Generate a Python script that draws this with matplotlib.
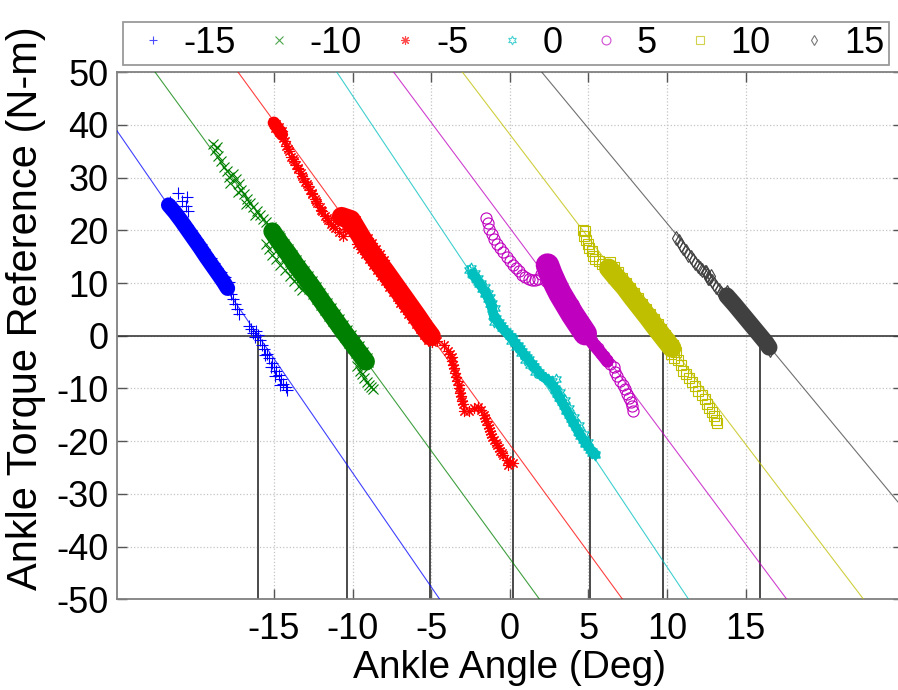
import matplotlib
matplotlib.use("Agg")
import matplotlib.pyplot as plt
import numpy as np

plt.rcParams['font.family'] = ['Liberation Sans', 'DejaVu Sans']

# ---------------- data ----------------
labels = ['-15', '-10', '-5', '0', '5', '10', '15']
# equilibrium angle of each reference line (deg) and its stiffness (N-m/deg)
theta0 = [-16.0, -10.33, -5.05, 0.19, 5.12, 9.75, 15.93]
stiffness = [4.33, 4.09, 4.09, 4.47, 4.0, 3.92, 3.6]

xticks = [-15, -10, -5, 0, 5, 10, 15]
yticks = [-50, -40, -30, -20, -10, 0, 10, 20, 30, 40, 50]

# individual samples (angle deg, torque N-m)
blue_pts = [
    (-21.1, 27.0), (-20.55, 26.3), (-20.85, 25.5), (-20.6, 24.6), (-20.45, 23.6),
    (-21.8, 25.0), (-21.6, 25.4), (-21.55, 24.2), (-21.35, 24.6), (-21.4, 23.3), (-21.15, 23.6),
    (-21.2, 22.4), (-20.95, 22.7), (-21.0, 21.5), (-20.75, 21.8), (-20.8, 20.6), (-20.5, 21.0),
    (-20.55, 19.7), (-20.3, 20.1), (-20.35, 18.8), (-20.1, 19.2), (-20.15, 17.9), (-19.9, 18.3),
    (-19.9, 17.0), (-19.65, 17.4), (-19.7, 16.1), (-19.45, 16.5), (-19.5, 15.2), (-19.25, 15.6),
    (-19.3, 14.3), (-19.0, 14.7), (-19.05, 13.4), (-18.8, 13.8), (-18.85, 12.5), (-18.6, 12.9),
    (-18.6, 11.6), (-18.35, 12.0), (-18.35, 10.7), (-18.1, 11.1), (-18.1, 9.8), (-17.85, 10.2),
    (-17.9, 8.8), (-17.7, 8.0), (-17.6, 7.0), (-17.45, 6.0), (-17.35, 5.0), (-17.2, 4.2),
    (-16.6, 1.8), (-16.45, 1.2), (-16.3, 0.6), (-16.15, 0.9), (-16.0, 0.1), (-16.2, -0.3), (-15.9, -0.8),
    (-15.75, -1.8), (-15.6, -2.6), (-15.45, -3.4), (-15.3, -4.3), (-15.15, -5.1), (-15.0, -5.9),
    (-14.85, -6.7), (-14.7, -7.5), (-14.55, -8.3), (-14.4, -9.1), (-14.25, -9.8), (-14.15, -10.3),
    (-15.55, -3.6), (-15.2, -6.0), (-14.9, -7.7), (-14.6, -9.3),
]
blue_core = [(-21.7, 24.8), (-21.3, 23.4), (-20.9, 21.8), (-20.5, 20.1), (-20.1, 18.4),
             (-19.7, 16.7), (-19.3, 14.9), (-18.9, 13.2), (-18.5, 11.5), (-18.2, 10.2),
             (-17.95, 9.0)]

green_pts = [
    (-18.9, 36.3), (-18.75, 35.2), (-18.6, 35.8), (-18.55, 34.1), (-18.35, 33.2), (-18.2, 32.0),
    (-18.0, 31.2), (-17.85, 30.2), (-17.6, 30.6), (-17.4, 29.7), (-17.25, 28.7), (-17.1, 27.6),
    (-16.9, 26.8), (-16.7, 26.0), (-16.5, 25.2), (-16.3, 24.4), (-16.1, 23.7), (-15.9, 22.9),
    (-15.7, 22.2), (-15.5, 21.5),
    (-17.8, 29.0), (-17.3, 27.2), (-16.8, 25.0), (-16.2, 23.0),
    (-15.5, 17.5), (-15.3, 16.4), (-15.1, 15.4), (-14.85, 14.5), (-14.6, 13.4), (-14.3, 12.4),
    (-14.0, 11.4), (-13.7, 10.4), (-13.4, 9.4), (-13.2, 8.7),
    (-15.2, 20.6), (-15.0, 19.8), (-14.9, 18.6), (-14.7, 19.0),
    (-14.6, 18.5), (-14.35, 17.4), (-14.1, 16.4), (-13.85, 15.4), (-13.6, 14.4), (-13.35, 13.4),
    (-13.1, 12.3), (-12.85, 11.3), (-12.6, 10.3), (-12.35, 9.3), (-12.1, 8.2), (-11.85, 7.2),
    (-11.6, 6.2), (-11.35, 5.2), (-11.1, 4.1), (-10.85, 3.1), (-10.6, 2.1), (-10.35, 1.1),
    (-10.1, 0.1), (-9.85, -1.0), (-9.6, -2.0), (-9.35, -3.0), (-9.1, -4.2),
    (-14.5, 16.0), (-14.25, 15.0), (-14.0, 14.0), (-13.75, 13.0), (-13.5, 12.0), (-13.25, 10.9),
    (-13.0, 9.9), (-12.75, 8.9), (-12.5, 7.9), (-12.25, 6.9), (-12.0, 5.8), (-11.75, 4.8),
    (-11.5, 3.8), (-11.25, 2.8), (-11.0, 1.8), (-10.75, 0.7), (-10.5, -0.3), (-10.25, -1.3),
    (-10.0, -2.3), (-9.75, -3.3), (-9.5, -4.3), (-9.25, -5.3), (-9.0, -5.0),
    (-9.7, -5.8), (-9.55, -6.6), (-9.4, -7.3), (-9.25, -8.0), (-9.1, -8.7), (-8.95, -9.3),
    (-8.8, -9.8), (-8.7, -10.1),
]
green_core = [(-15.1, 19.8), (-14.6, 17.6), (-14.1, 15.6), (-13.6, 13.4), (-13.1, 11.4),
              (-12.6, 9.4), (-12.1, 7.2), (-11.6, 5.1), (-11.1, 3.0), (-10.6, 0.9),
              (-10.1, -1.1), (-9.6, -3.1), (-9.15, -4.9)]

red_pts = [
    (-15.05, 40.5), (-14.85, 40.2), (-14.9, 39.4), (-14.65, 39.6), (-14.7, 38.6), (-14.5, 38.8),
    (-14.45, 37.6), (-14.3, 37.0),
    (-14.2, 36.0), (-14.05, 35.0), (-13.9, 34.0), (-13.75, 33.2), (-13.6, 32.4), (-13.45, 31.6),
    (-13.3, 30.8), (-13.15, 30.0), (-13.0, 29.2), (-12.85, 28.4), (-12.7, 27.6), (-12.55, 26.8),
    (-12.4, 26.0), (-12.25, 25.2), (-12.1, 24.4), (-11.95, 23.6), (-11.75, 22.8), (-11.55, 22.0),
    (-11.35, 21.2), (-11.1, 20.4), (-10.85, 19.7), (-10.6, 19.0),
    (-14.1, 35.4), (-13.8, 33.6), (-13.5, 31.9), (-13.2, 30.3), (-12.9, 28.7), (-12.6, 27.1),
    (-12.3, 25.5), (-12.0, 23.9), (-11.65, 22.4), (-11.25, 20.9),
    (-10.9, 22.8), (-10.6, 23.2), (-10.3, 23.0), (-10.0, 22.6), (-9.75, 22.0), (-10.7, 21.8),
    (-10.4, 21.6), (-10.1, 21.3), (-9.8, 20.8), (-10.5, 20.3), (-10.2, 19.8),
    (-9.9, 20.8), (-9.65, 19.8), (-9.4, 18.8), (-9.15, 17.8), (-8.9, 16.7), (-8.65, 15.7),
    (-8.4, 14.7), (-8.15, 13.7), (-7.9, 12.7), (-7.65, 11.6), (-7.4, 10.6), (-7.15, 9.6),
    (-6.9, 8.6), (-6.65, 7.5), (-6.4, 6.5), (-6.15, 5.5), (-5.9, 4.5), (-5.65, 3.5),
    (-5.4, 2.4), (-5.15, 1.4),
    (-9.7, 17.5), (-9.45, 16.5), (-9.2, 15.5), (-8.95, 14.5), (-8.7, 13.4), (-8.45, 12.4),
    (-8.2, 11.4), (-7.95, 10.4), (-7.7, 9.3), (-7.45, 8.3), (-7.2, 7.3), (-6.95, 6.3),
    (-6.7, 5.2), (-6.45, 4.2), (-6.2, 3.2), (-5.95, 2.2), (-5.7, 1.2), (-5.45, 0.1),
    (-5.2, -0.8), (-4.95, -1.1),
    (-9.5, 20.0), (-9.25, 19.2), (-9.0, 18.5), (-8.75, 17.6), (-8.5, 16.5), (-8.25, 15.5), (-8.0, 14.4),
    (-4.6, -1.0), (-4.2, -1.8), (-3.9, -2.8), (-3.7, -4.0), (-3.6, -5.5), (-3.5, -7.0),
    (-3.35, -8.5), (-3.2, -10.0), (-3.1, -11.5), (-3.0, -13.0), (-2.9, -14.2), (-2.6, -14.3),
    (-2.3, -13.8), (-2.0, -13.5), (-1.8, -14.0), (-1.65, -15.0), (-1.5, -16.2), (-1.35, -17.5),
    (-1.2, -18.7), (-1.0, -19.8), (-0.8, -20.8), (-0.6, -21.8), (-0.4, -22.7), (-0.2, -23.5),
    (0.0, -24.0), (0.2, -24.2), (-0.1, -24.6),
    (-3.8, -3.4), (-3.65, -4.8), (-3.55, -6.2), (-3.4, -7.8), (-3.25, -9.3), (-3.15, -10.8),
    (-3.05, -12.3), (-1.55, -15.6), (-1.4, -16.9), (-1.25, -18.1), (-1.1, -19.3), (-0.9, -20.3),
    (-0.7, -21.3), (-0.5, -22.3),
]
red_core = [(-15.0, 40.4), (-14.5, 38.2)]
red_core2 = [(-10.7, 22.6), (-10.1, 22.0), (-9.7, 20.0), (-9.3, 18.0), (-8.9, 16.2),
             (-8.4, 14.1), (-7.9, 12.1), (-7.4, 10.0), (-6.9, 7.9), (-6.4, 5.8),
             (-5.9, 3.7), (-5.4, 1.5), (-5.0, -0.1)]

cyan_pts = [
    (-2.6, 12.4), (-2.45, 12.8), (-2.35, 11.6), (-2.2, 11.9), (-2.15, 10.7), (-2.0, 11.0),
    (-1.95, 9.8), (-1.8, 10.1), (-1.75, 8.9), (-1.6, 9.2), (-1.55, 8.0), (-1.4, 8.2),
    (-1.4, 7.0), (-1.25, 7.3), (-1.25, 6.0), (-1.1, 6.3), (-1.1, 5.0), (-0.95, 5.2),
    (-1.05, 3.8), (-1.0, 2.6), (-0.85, 3.4), (-0.7, 2.6), (-0.55, 2.0), (-0.4, 1.4),
    (-0.25, 0.9), (-0.1, 0.5), (0.05, 0.0), (0.2, -0.5), (0.35, -1.1), (0.5, -1.7),
    (0.65, -2.3), (0.8, -2.9), (0.95, -3.4), (1.1, -4.0), (1.25, -4.5), (1.4, -5.1),
    (1.55, -5.7), (1.7, -6.3), (1.85, -6.9), (2.0, -7.4), (2.2, -7.9), (2.45, -8.3),
    (2.7, -8.6), (2.95, -8.3), (2.75, -9.3), (2.85, -10.2), (3.0, -11.0), (3.15, -11.8),
    (3.3, -12.6), (3.45, -13.4), (3.6, -14.2), (3.75, -15.0), (3.9, -15.8), (4.05, -16.6),
    (4.2, -17.4), (4.35, -18.2), (4.5, -19.0), (4.65, -19.8), (4.8, -20.5), (4.95, -21.1),
    (5.1, -21.7), (5.25, -22.2), (5.45, -22.6),
    (0.1, -1.0), (0.4, -2.2), (0.7, -3.3), (1.0, -4.6), (1.3, -5.6), (1.6, -6.8),
    (3.2, -10.6), (3.5, -12.2), (3.8, -13.8), (4.1, -15.4), (4.4, -17.0), (4.7, -18.6), (5.0, -20.2),
]
cyan_core = [(-2.4, 11.8), (-2.0, 10.2), (-1.55, 8.2), (-1.2, 6.0), (-1.0, 3.6), (-0.5, 1.5),
             (0.0, -0.1), (0.5, -1.9), (1.0, -3.9), (1.5, -5.7), (2.0, -7.5), (2.5, -8.6),
             (2.85, -9.9), (3.2, -11.9), (3.6, -14.1), (4.0, -16.3), (4.4, -18.4),
             (4.8, -20.3), (5.2, -21.8), (5.45, -22.5)]

magenta_pts = [
    (-1.5, 22.3), (-1.4, 21.3), (-1.3, 20.3), (-1.15, 19.3), (-1.0, 18.4), (-0.8, 17.5),
    (-0.6, 16.7), (-0.4, 15.8), (-0.2, 15.0), (0.0, 14.2), (0.2, 13.5), (0.4, 12.8),
    (0.6, 12.2), (0.8, 11.6), (1.0, 11.2), (1.2, 10.8), (1.4, 10.6), (1.6, 10.5), (1.8, 10.8),
    (2.3, 14.0), (2.5, 13.8), (2.2, 13.0), (2.6, 12.5), (2.0, 11.8), (2.4, 11.5), (2.8, 11.2),
    (2.3, 10.3), (2.7, 10.0), (3.1, 10.0), (2.6, 9.0), (3.0, 8.8), (3.4, 8.5), (2.9, 7.8),
    (3.3, 7.5), (3.7, 7.2), (3.2, 6.5), (3.6, 6.2), (4.0, 6.0), (3.5, 5.2), (3.9, 5.0),
    (4.2, 4.5), (3.8, 4.0), (4.1, 3.5), (4.4, 3.0), (4.1, 2.5), (4.4, 2.0), (4.6, 1.5),
    (4.5, 0.8), (4.8, 0.3), (5.0, -0.3), (5.2, -1.0), (5.4, -1.7), (5.6, -2.4), (5.8, -3.2),
    (6.0, -3.9), (6.2, -4.6), (6.4, -5.3), (6.6, -6.0), (6.7, -6.8), (6.85, -7.6), (7.0, -8.5),
    (7.2, -9.3), (7.3, -10.1), (7.45, -11.0), (7.6, -11.8), (7.7, -12.6), (7.8, -13.4), (7.85, -14.2),
]
magenta_core = [(2.4, 13.4), (2.6, 11.8), (2.9, 9.8), (3.2, 8.0), (3.6, 6.0), (4.0, 4.0),
                (4.4, 2.2), (4.8, 0.4)]
magenta_core2 = [(4.8, 0.4), (5.3, -1.5), (5.8, -3.3), (6.2, -4.8)]

yellow_pts = [
    (4.65, 20.0), (4.8, 19.8), (4.7, 19.0), (4.85, 18.2), (4.95, 17.4), (5.05, 16.7),
    (5.2, 16.0), (5.3, 15.2), (5.45, 14.6), (5.65, 14.1), (5.85, 13.6), (6.05, 13.1), (6.25, 12.7),
    (6.4, 13.9), (6.65, 13.0), (6.9, 12.0), (7.15, 11.0), (7.4, 10.0), (7.65, 9.0), (7.9, 8.1),
    (8.15, 7.1), (8.4, 6.1), (8.65, 5.1), (8.9, 4.1), (9.15, 3.2), (9.4, 2.2), (9.65, 1.2),
    (9.9, 0.2), (10.15, -0.8), (10.4, -1.8),
    (6.55, 12.1), (6.8, 11.2), (7.05, 10.2), (7.3, 9.2), (7.55, 8.2), (7.8, 7.2), (8.05, 6.3),
    (8.3, 5.3), (8.55, 4.3), (8.8, 3.3), (9.05, 2.3), (9.3, 1.4), (9.55, 0.4), (9.8, -0.6),
    (10.05, -1.6), (10.3, -2.6), (10.55, -3.0),
    (10.25, -3.5), (10.45, -4.3), (10.7, -4.6), (10.9, -5.6), (11.05, -6.6), (11.2, -7.3),
    (11.4, -8.0), (11.6, -8.8), (11.8, -9.6), (12.0, -10.4), (12.2, -11.2), (12.4, -12.0),
    (12.55, -12.9), (12.7, -13.7), (12.85, -14.5), (13.0, -15.3), (13.1, -16.0), (13.2, -16.5),
]
yellow_core = [(6.3, 12.8), (6.8, 11.0), (7.3, 9.3), (7.8, 7.3), (8.3, 5.4), (8.8, 3.5),
               (9.3, 1.5), (9.8, -0.4), (10.3, -2.3)]

black_pts = [
    (10.6, 18.6), (10.75, 17.9), (10.9, 17.2), (11.05, 16.6), (11.2, 16.0), (11.35, 15.4),
    (11.5, 14.9), (11.65, 14.3), (11.8, 13.8), (11.95, 13.3), (12.1, 12.8), (12.25, 12.4),
    (12.4, 12.0), (12.55, 11.6), (12.7, 11.0), (12.85, 10.4), (13.0, 9.8), (13.15, 9.2),
    (13.3, 8.7), (13.45, 8.2), (13.6, 7.7), (12.5, 12.0), (12.8, 11.3), (12.6, 11.0),
    (13.8, 8.3), (14.05, 7.4), (14.3, 6.5), (14.55, 5.6), (14.8, 4.7), (15.05, 3.8),
    (15.3, 2.9), (15.55, 2.0), (15.8, 1.1), (16.05, 0.2), (16.3, -0.7), (16.5, -1.5),
    (13.9, 6.8), (14.15, 5.9), (14.4, 5.0), (14.65, 4.1), (14.9, 3.2), (15.15, 2.3),
    (15.4, 1.4), (15.65, 0.5), (15.9, -0.4), (16.15, -1.3), (16.4, -2.2), (16.55, -2.7),
]
black_core = [(13.8, 7.6), (14.3, 5.9), (14.8, 4.1), (15.3, 2.3), (15.8, 0.5), (16.3, -1.3),
              (16.5, -2.2)]

series = [blue_pts, green_pts, red_pts, cyan_pts, magenta_pts, yellow_pts, black_pts]
cores = [[blue_core], [green_core], [red_core, red_core2], [cyan_core],
         [magenta_core, magenta_core2], [yellow_core], [black_core]]

# ---------------- style ----------------
colors = ['#0000FF', '#008000', '#FF0000', '#00BFBF', '#BF00BF', '#BFBF00', '#404040']
markers = ['+', 'x', (8, 2, 0), (6, 1, 0), 'o', 's', 'd']
msizes = [8, 7, 8, 8, 8, 7, 7]
core_w = [[11], [13], [9, 14], [7], [17, 9], [14], [12]]

W, H = 898, 690
fig = plt.figure(figsize=(W / 100, H / 100), dpi=100)
ax = fig.add_axes([116.7 / W, 90.7 / H, (902.8 - 116.7) / W, 527.1 / H])
ax.set_xlim(-25, 25)
ax.set_ylim(-50, 50)

xline = np.array([-25.0, 25.0])
handles = []
for i, pts in enumerate(series):
    arr = np.array(pts)
    for core, cw in zip(cores[i], core_w[i]):
        c = np.array(core)
        ax.plot(c[:, 0], c[:, 1], color=colors[i], lw=cw,
                solid_capstyle='round', solid_joinstyle='round', zorder=4)
        ax.plot(c[:, 0], c[:, 1], linestyle='none', marker=markers[i],
                markersize=msizes[i], markerfacecolor='none',
                markeredgecolor=colors[i], markeredgewidth=0.8, zorder=5)
    h, = ax.plot(arr[:, 0], arr[:, 1], linestyle='none', marker=markers[i],
                 markersize=msizes[i], markerfacecolor='none',
                 markeredgecolor=colors[i], markeredgewidth=0.8, zorder=5)
    ax.plot(xline, -stiffness[i] * (xline - theta0[i]), color=colors[i],
            lw=0.8, alpha=0.75, zorder=3)
    handles.append(h)

ax.axhline(0, color='#3a3a3a', lw=1.2, zorder=2)
ax.vlines(theta0, -50, 0, color='#4a4a4a', lw=1.4, zorder=2)

ax.set_xticks(xticks)
ax.set_yticks(yticks)
ax.set_xticklabels([str(t) for t in xticks])
ax.set_yticklabels([str(t) for t in yticks])
ax.grid(True, linestyle=':', color='#c4c4c4', lw=0.9)
ax.set_axisbelow(True)
ax.tick_params(direction='in', length=7, width=1, colors='#555555',
               labelcolor='black', labelsize=26, top=True, right=True, pad=6)
ax.tick_params(axis='x', pad=9)
for s in ax.spines.values():
    s.set_color('#808080')
    s.set_linewidth(1.3)

ax.set_xlabel('Ankle Angle (Deg)', fontsize=28, labelpad=2)
ax.set_ylabel('Ankle Torque Reference (N-m)', fontsize=30)
ax.yaxis.set_label_coords(-0.09, 0.553)

leg = fig.legend(handles, labels, loc='upper center', bbox_to_anchor=(0.5635, 0.995),
                 ncol=7, fontsize=26, frameon=True, fancybox=False,
                 edgecolor='#808080', handlelength=1.4, handletextpad=0.15,
                 columnspacing=0.5, borderpad=0.12, markerscale=0.8)
leg.get_frame().set_linewidth(1.3)
for lh in leg.legend_handles:
    lh.set_alpha(0.7)

fig.savefig('out.png', dpi=100)
